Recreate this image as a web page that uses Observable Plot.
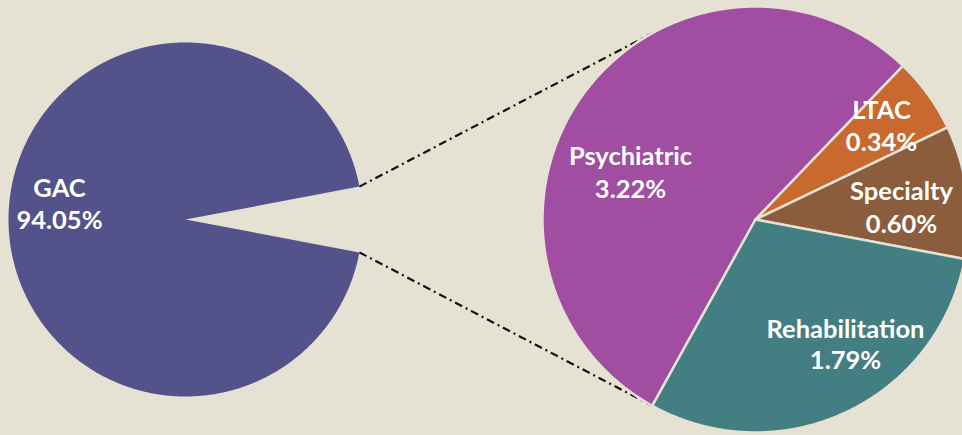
<!DOCTYPE html>
<html>
<head>
<meta charset="utf-8">
<script src="https://cdn.jsdelivr.net/npm/d3@7"></script>
<script src="https://cdn.jsdelivr.net/npm/@observablehq/plot@0.6"></script>
<style>
  html, body { margin: 0; padding: 0; background: #E5E2D3; }
  #chart { width: 962px; height: 435px; overflow: hidden; }
</style>
</head>
<body>
<div id="chart"></div>
<script>
// ---- Data ----
const mainCategory = "GAC";
const mainShare = 94.05;
const subCategories = ["Psychiatric", "LTAC", "Specialty", "Rehabilitation"];
const subShares = [3.22, 0.34, 0.60, 1.79];
const mainColor = "#54528A";
const subColors = ["#A04DA2", "#C8692F", "#8B5D3C", "#437F82"];

// ---- Layout ----
const W = 962, H = 435;
const bg = "#E5E2D3";
const mainPie = {cx: 185, cy: 219, r: 177};
const subPie = {cx: 755, cy: 219, r: 213, start: 209};
const connectorSpread = 61; // degrees either side of 9 o'clock on the sub pie
const labelPos = {
  "GAC": [59, 196, 228],
  "Psychiatric": [630, 164, 197],
  "LTAC": [881, 118, 150],
  "Specialty": [901, 199, 232],
  "Rehabilitation": [845, 337, 368]
};
const rad = d => d * Math.PI / 180;
const pt = (c, r, a) => [c.cx + r * Math.sin(a), c.cy - r * Math.cos(a)];

function arcPolygon(c, a0, a1, name, color) {
  const pts = [{name, color, x: c.cx, y: c.cy}];
  const n = Math.max(2, Math.ceil((a1 - a0) / rad(0.5)));
  for (let i = 0; i <= n; i++) {
    const a = a0 + (a1 - a0) * i / n;
    const [x, y] = pt(c, c.r, a);
    pts.push({name, color, x, y});
  }
  pts.push({name, color, x: c.cx, y: c.cy});
  return pts;
}

// main pie: GAC + remainder gap centered at 3 o'clock
const otherShare = d3.sum(subShares);
const mainArcs = d3.pie().sort(null).value(d => d.v)
  .startAngle(rad(90) - rad(180 * otherShare / 100))
  .endAngle(rad(90) - rad(180 * otherShare / 100) + 2 * Math.PI)
  ([{k: "other", v: otherShare}, {k: mainCategory, v: mainShare}]);
const gacArc = mainArcs[1];
const mainPoints = arcPolygon(mainPie, gacArc.startAngle, gacArc.endAngle, mainCategory, mainColor);

// sub pie
const subArcs = d3.pie().sort(null).value(d => d.v)
  .startAngle(rad(subPie.start)).endAngle(rad(subPie.start) + 2 * Math.PI)
  (subCategories.map((k, i) => ({k, v: subShares[i], color: subColors[i]})));
const subPoints = subArcs.flatMap(a => arcPolygon(subPie, a.startAngle, a.endAngle, a.data.k, a.data.color));

// connectors: from the gap edges of main pie to the sub pie
const gap = mainArcs[0];
const connectors = [
  {from: pt(mainPie, mainPie.r, gap.startAngle), to: pt(subPie, subPie.r, rad(270 + connectorSpread))},
  {from: pt(mainPie, mainPie.r, gap.endAngle), to: pt(subPie, subPie.r, rad(270 - connectorSpread))}
];

// labels
const allCats = [mainCategory, ...subCategories];
const allShares = [mainShare, ...subShares];
const labels = allCats.map((k, i) => ({
  name: k, pct: allShares[i].toFixed(2) + "%",
  x: labelPos[k][0], y1: labelPos[k][1], y2: labelPos[k][2]
}));

const font = {fontFamily: "Lato", fontWeight: "bold", fontSize: 25.5, fill: "white", lineAnchor: "bottom", textAnchor: "middle"};

const chart = Plot.plot({
  width: W, height: H,
  margin: 0,
  style: {background: bg, fontFamily: "Lato", overflow: "hidden"},
  x: {type: "identity", axis: null},
  y: {type: "identity", axis: null},
  marks: [
    Plot.line(mainPoints, {x: "x", y: "y", z: "name", fill: mainColor, stroke: "none", curve: "linear"}),
    Plot.link(connectors, {
      x1: d => d.from[0], y1: d => d.from[1], x2: d => d.to[0], y2: d => d.to[1],
      stroke: "#111", strokeWidth: 2.2, strokeDasharray: "8,4,2,4"
    }),
    Plot.line(subPoints, {x: "x", y: "y", z: "name", fill: d => d.color, stroke: bg, strokeWidth: 2.5, strokeLinejoin: "round", curve: "linear"}),
    Plot.text(labels, {x: "x", y: "y1", text: "name", ...font}),
    Plot.text(labels, {x: "x", y: "y2", text: "pct", ...font})
  ]
});
document.getElementById("chart").appendChild(chart);
</script>
</body>
</html>
